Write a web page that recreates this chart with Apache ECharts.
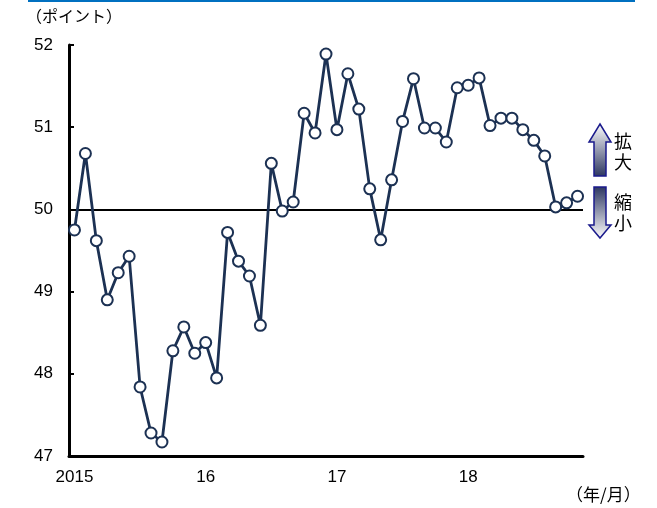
<!DOCTYPE html>
<html>
<head>
<meta charset="utf-8">
<script src="https://cdn.jsdelivr.net/npm/echarts@6/dist/echarts.min.js"></script>
<style>
  html, body { margin: 0; padding: 0; background: #fff; }
  #chart { width: 657px; height: 508px; }
</style>
</head>
<body>
<div id="chart"></div>
<script>
// Year labels shown on the axis (first month of each year)
const yearLabels = ['2015', '16', '17', '18'];
const monthCount = 47; // Jan 2015 .. Nov 2018

// Index values, monthly
const indexValues = [
  49.75, 50.68, 49.62, 48.90, 49.23, 49.43, 47.84, 47.28, 47.17, 48.28, 48.57, 48.25,
  48.38, 47.95, 49.72, 49.37, 49.19, 48.59, 50.56, 49.98, 50.09, 51.17, 50.93, 51.89,
  50.97, 51.65, 51.22, 50.25, 49.63, 50.36, 51.07, 51.59, 50.99, 50.99, 50.82, 51.48,
  51.51, 51.60, 51.02, 51.11, 51.11, 50.97, 50.84, 50.65, 50.03, 50.08, 50.16
];

const yTicks = { min: 47, max: 52, interval: 1 };
const baseline = 50;

// Category list: "2015/1" ... built from the year labels
const categories = [];
for (let i = 0; i < monthCount; i++) {
  const y = Math.floor(i / 12);
  categories.push(yearLabels[y] + '/' + ((i % 12) + 1));
}

const navy = '#1c3153';
const labelFont = 'Liberation Sans';

const chart = echarts.init(document.getElementById('chart'));

chart.setOption({
  animation: false,
  grid: { left: 69, right: 74, top: 45, bottom: 52 },
  xAxis: {
    type: 'category',
    data: categories,
    boundaryGap: true,
    axisLine: { lineStyle: { color: '#000', width: 3 } },
    axisTick: { interval: 11, length: 5, lineStyle: { color: '#000', width: 2 } },
    axisLabel: {
      interval: 11,
      margin: 13,
      color: '#000',
      fontFamily: labelFont,
      fontSize: 17,
      formatter: v => v.split('/')[0]
    },
    splitLine: { show: false }
  },
  yAxis: {
    type: 'value',
    min: yTicks.min,
    max: yTicks.max,
    interval: yTicks.interval,
    axisLine: { show: true, lineStyle: { color: '#000', width: 3 } },
    axisTick: { show: true, inside: true, length: 5, lineStyle: { color: '#000', width: 2 } },
    axisLabel: { margin: 16, color: '#000', fontFamily: labelFont, fontSize: 17 },
    splitLine: { show: false }
  },
  series: [{
    type: 'line',
    data: indexValues,
    symbol: 'circle',
    symbolSize: 11,
    showAllSymbol: true,
    lineStyle: { color: navy, width: 2.8 },
    itemStyle: { color: '#fff', borderColor: navy, borderWidth: 2 },
    z: 3,
    markLine: {
      silent: true,
      symbol: 'none',
      label: { show: false },
      lineStyle: { color: '#000', width: 2, type: 'solid' },
      data: [{ yAxis: baseline }],
      z: 2
    }
  }],
  graphic: [
    { type: 'line', shape: { x1: 28, y1: 1, x2: 635, y2: 1 }, style: { stroke: '#0070c0', lineWidth: 2 } },
    { type: 'text', left: 26, top: 8, style: { text: '（ポイント）', font: '16px "Noto Sans CJK JP"', fill: '#000' } },
    { type: 'text', left: 566, top: 486, style: { text: '（年/月）', font: '17px "Noto Sans CJK JP"', fill: '#000' } },
    {
      type: 'polygon',
      shape: { points: [[600, 124], [611, 142], [606, 142], [606, 176], [594, 176], [594, 142], [589, 142]] },
      style: {
        fill: new echarts.graphic.LinearGradient(0, 0, 0, 1, [
          { offset: 0, color: '#ffffff' },
          { offset: 1, color: '#2b3560' }
        ]),
        stroke: '#1a1a8c', lineWidth: 1.5
      }
    },
    {
      type: 'polygon',
      shape: { points: [[594, 187], [606, 187], [606, 225], [611, 225], [600, 238], [589, 225], [594, 225]] },
      style: {
        fill: new echarts.graphic.LinearGradient(0, 0, 0, 1, [
          { offset: 0, color: '#2b3560' },
          { offset: 1, color: '#ffffff' }
        ]),
        stroke: '#1a1a8c', lineWidth: 1.5
      }
    },
    { type: 'text', left: 614, top: 131, style: { text: '拡\n大', font: '18px "Noto Sans CJK JP"', lineHeight: 21, fill: '#000' } },
    { type: 'text', left: 614, top: 192, style: { text: '縮\n小', font: '18px "Noto Sans CJK JP"', lineHeight: 21, fill: '#000' } }
  ]
});
</script>
</body>
</html>
